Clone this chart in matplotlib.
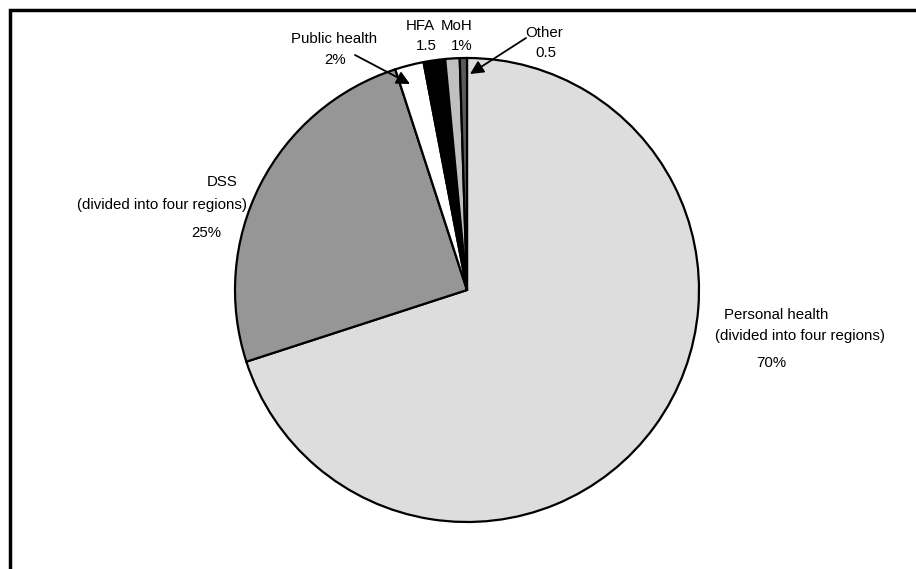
import matplotlib.pyplot as plt
from matplotlib.patches import Rectangle

plt.rcParams['font.family'] = ['Liberation Sans', 'DejaVu Sans']

# share of budget, clockwise from 12 o'clock
categories = ['Personal health', 'DSS', 'Public health', 'HFA', 'MoH', 'Other']
shares = [70, 25, 2, 1.5, 1, 0.5]
colors = ['#dddddd', '#969696', '#ffffff', '#000000', '#c0c0c0', '#5a5a5a']

W, H = 916, 569
fig = plt.figure(figsize=(W / 100, H / 100), dpi=100)
ax = fig.add_axes([0, 0, 1, 1])

def Y(y):
    # pixel row (from top) -> data y
    return H - y

ax.pie(shares, colors=colors, startangle=90, counterclock=False,
       center=(467, Y(290)), radius=232,
       wedgeprops=dict(edgecolor='black', linewidth=1.6))

fs = 10.8
def txt(x, y, s):
    ax.text(x, Y(y), s, ha='center', va='center', fontsize=fs)

# personal health
txt(776, 315, 'Personal health')
txt(800, 336, '(divided into four regions)')
txt(771, 363, '70%')
# DSS
txt(222, 182, 'DSS')
txt(162, 205, '(divided into four regions)')
txt(206, 233, '25%')
# small slices
txt(334, 39, 'Public health')
txt(335, 60, '2%')
txt(420, 26, 'HFA')
txt(426, 46, '1.5')
txt(457, 26, 'MoH')
txt(462, 46, '1%')
txt(544, 33, 'Other')
txt(546, 53, '0.5')

arrow = dict(arrowstyle='-|>', color='black', lw=1.3, mutation_scale=20,
             shrinkA=0, shrinkB=0)
ax.annotate('', xy=(410, Y(84)), xytext=(355, Y(55)), arrowprops=arrow)
ax.annotate('', xy=(470, Y(74)), xytext=(526, Y(38)), arrowprops=arrow)

# chart frame (only top/left edges visible in the crop)
ax.add_patch(Rectangle((10, Y(700)), 1000, 690, fill=False,
                       edgecolor='black', linewidth=2.5))

ax.set_xlim(0, W)
ax.set_ylim(0, H)
ax.set_aspect('equal')
ax.axis('off')

fig.savefig('out.png', dpi=100)
